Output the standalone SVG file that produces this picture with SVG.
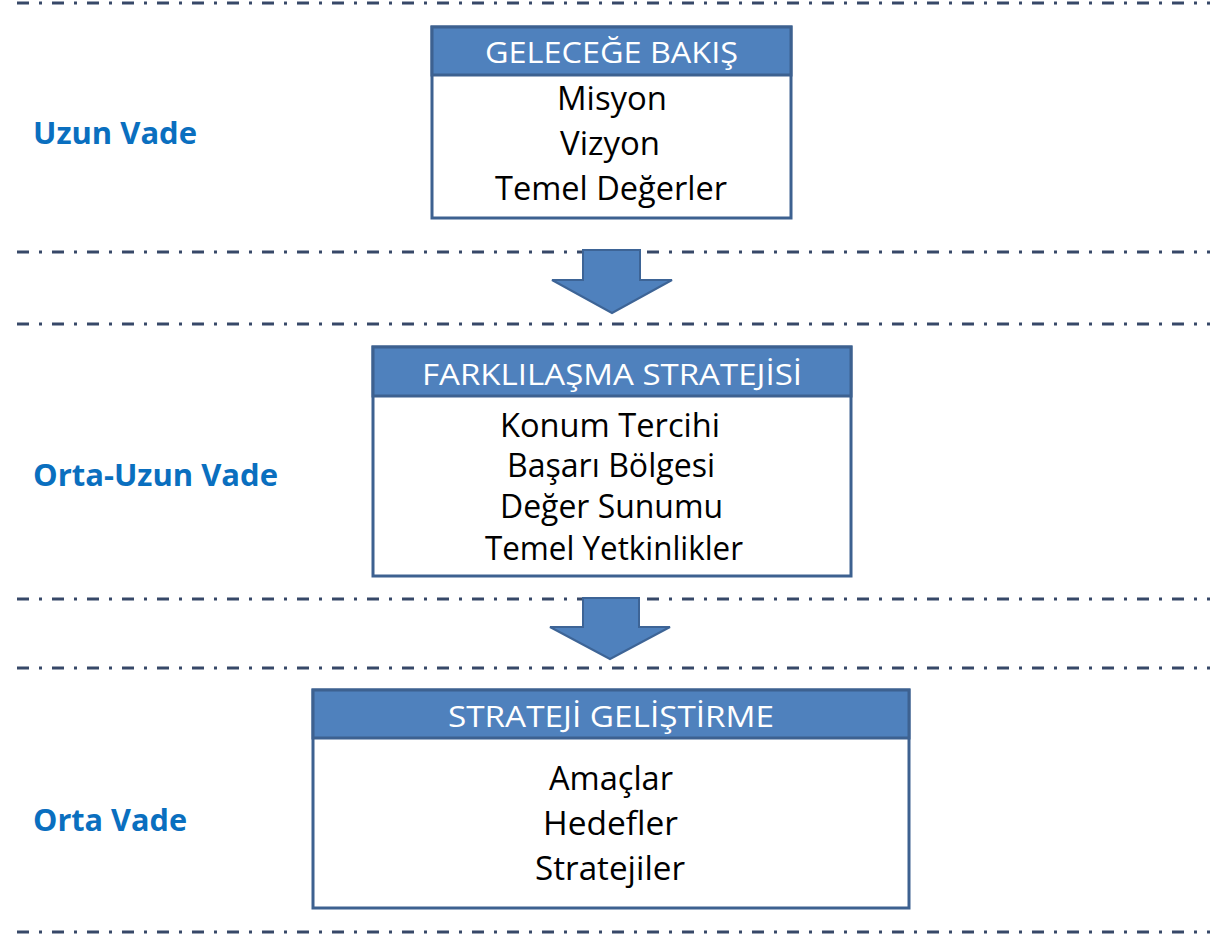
<svg xmlns="http://www.w3.org/2000/svg" width="1215" height="934" viewBox="0 0 1215 934">
<style>
.sep{stroke:#374868;stroke-width:3.2;stroke-dasharray:12 10 3 10;fill:none}
.box{fill:#ffffff;stroke:#3d6190;stroke-width:3}
.hdr{fill:#4f81bd;stroke:#3d6190;stroke-width:3}
.ht{font-family:"Open Sans","Noto Sans","Liberation Sans",sans-serif;font-size:30px;fill:#ffffff;text-anchor:middle}
.bt{font-family:"Open Sans","Noto Sans","Liberation Sans",sans-serif;font-size:32px;fill:#000000;text-anchor:middle}
.lbl{font-family:"Open Sans","Noto Sans","Liberation Sans",sans-serif;font-size:30px;font-weight:bold;fill:#0a6fbf}
.arr{fill:#4f81bd;stroke:#3d6496;stroke-width:2;stroke-linejoin:miter}
</style>
<rect width="1215" height="934" fill="#ffffff"/>
<g id="separators">
<line class="sep" x1="17" y1="3" x2="1210" y2="3"/>
<line class="sep" x1="17" y1="252" x2="1210" y2="252"/>
<line class="sep" x1="17" y1="324" x2="1210" y2="324"/>
<line class="sep" x1="17" y1="599" x2="1210" y2="599"/>
<line class="sep" x1="17" y1="668" x2="1210" y2="668"/>
<line class="sep" x1="17" y1="932" x2="1210" y2="932"/>
</g>
<g id="labels">
<text class="lbl" x="33" y="144" textLength="164" lengthAdjust="spacingAndGlyphs">Uzun Vade</text>
<text class="lbl" x="33" y="486" textLength="245" lengthAdjust="spacingAndGlyphs">Orta-Uzun Vade</text>
<text class="lbl" x="33" y="831" textLength="154" lengthAdjust="spacingAndGlyphs">Orta Vade</text>
</g>
<g id="node-gelecege-bakis">
<rect class="box" x="432" y="27" width="359" height="191"/>
<rect class="hdr" x="432" y="27" width="359" height="48"/>
<text class="ht" x="611.5" y="63" textLength="253" lengthAdjust="spacingAndGlyphs">GELECEĞE BAKIŞ</text>
<text class="bt" x="612" y="110" textLength="110" lengthAdjust="spacingAndGlyphs">Misyon</text>
<text class="bt" x="610" y="155" textLength="100" lengthAdjust="spacingAndGlyphs">Vizyon</text>
<text class="bt" x="611" y="200" textLength="232" lengthAdjust="spacingAndGlyphs">Temel Değerler</text>
</g>
<g id="node-farklilasma">
<rect class="box" x="373" y="347" width="478" height="229"/>
<rect class="hdr" x="373" y="347" width="478" height="49"/>
<text class="ht" x="612" y="385" textLength="380" lengthAdjust="spacingAndGlyphs">FARKLILAŞMA STRATEJİSİ</text>
<text class="bt" x="610" y="437" textLength="220" lengthAdjust="spacingAndGlyphs">Konum Tercihi</text>
<text class="bt" x="611" y="477" textLength="208" lengthAdjust="spacingAndGlyphs">Başarı Bölgesi</text>
<text class="bt" x="611.5" y="518" textLength="223" lengthAdjust="spacingAndGlyphs">Değer Sunumu</text>
<text class="bt" x="614" y="560" textLength="258" lengthAdjust="spacingAndGlyphs">Temel Yetkinlikler</text>
</g>
<g id="node-strateji-gelistirme">
<rect class="box" x="313" y="690" width="596" height="218"/>
<rect class="hdr" x="313" y="690" width="596" height="48"/>
<text class="ht" x="611" y="727" textLength="326" lengthAdjust="spacingAndGlyphs">STRATEJİ GELİŞTİRME</text>
<text class="bt" x="611" y="790" textLength="124" lengthAdjust="spacingAndGlyphs">Amaçlar</text>
<text class="bt" x="610.5" y="835" textLength="135" lengthAdjust="spacingAndGlyphs">Hedefler</text>
<text class="bt" x="610" y="880" textLength="150" lengthAdjust="spacingAndGlyphs">Stratejiler</text>
</g>
<g id="connectors">
<polygon class="arr" points="583,250 640,250 640,280 672,280 612,313 552,280 583,280"/>
<polygon class="arr" points="583,598 639,598 639,627 670,627 610,659 550,627 583,627"/>
</g>
</svg>
